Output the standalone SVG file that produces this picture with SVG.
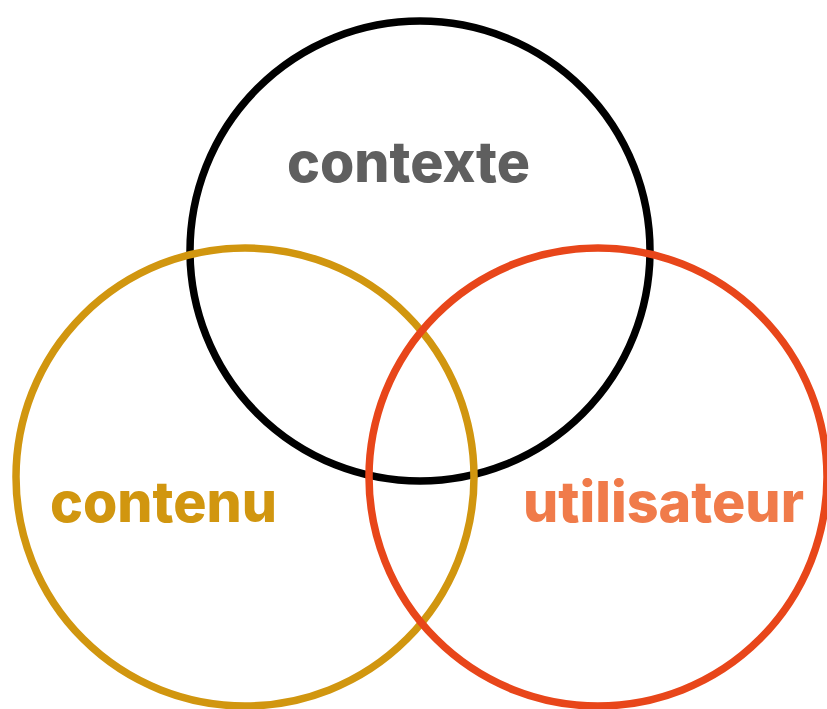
<svg xmlns="http://www.w3.org/2000/svg" width="827" height="709" viewBox="0 0 827 709">
<style>
.c{fill:none;stroke-width:7.5}
.t{font-family:Inter,"Open Sans","DejaVu Sans",sans-serif;font-weight:800;font-size:56px}
</style>
<rect width="827" height="709" fill="#fff"/>
<g id="contexte">
<circle class="c" cx="420" cy="251" r="230" stroke="#000"/>
<text class="t" x="287" y="182" fill="#5f5f5f" textLength="243" lengthAdjust="spacingAndGlyphs">contexte</text>
</g>
<g id="contenu">
<circle class="c" cx="245" cy="477" r="229" stroke="#D1960F"/>
<text class="t" x="50" y="522" fill="#D1960F" textLength="227" lengthAdjust="spacingAndGlyphs">contenu</text>
</g>
<g id="utilisateur">
<circle class="c" cx="598" cy="477" r="229" stroke="#E8461A"/>
<text class="t" x="523" y="522" fill="#F07B4A" textLength="281" lengthAdjust="spacingAndGlyphs">utilisateur</text>
</g>
</svg>
